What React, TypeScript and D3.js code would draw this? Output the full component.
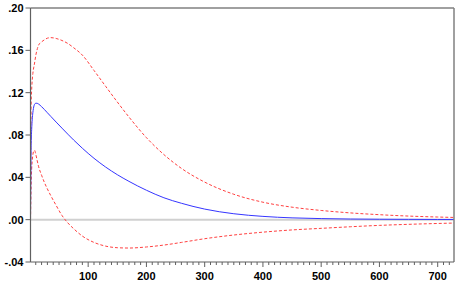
import React from "react";
import * as d3 from "d3";

const periods = [1,2,3,4,5,6,8,10,12,15,20,25,30,36,45,55,65,75,90,110,130,150,170,200,230,260,300,350,400,450,500,550,600,650,700,728];
const response = [0,0.068,0.085,0.095,0.101,0.105,0.109,0.110,0.110,0.1092,0.1068,0.1040,0.1010,0.0975,0.0922,0.0865,0.0808,0.0753,0.0675,0.0580,0.0497,0.0425,0.0362,0.0278,0.0207,0.0155,0.0100,0.0056,0.0031,0.0017,0.0010,0.0006,0.0004,0.0003,0.0002,0.0002];
const upperBand = [0,0.105,0.123,0.132,0.138,0.142,0.148,0.155,0.160,0.165,0.168,0.170,0.1715,0.172,0.1712,0.1693,0.1665,0.1625,0.1555,0.1410,0.1260,0.1112,0.0970,0.0775,0.0615,0.0485,0.0355,0.0240,0.0165,0.0118,0.0087,0.0064,0.0047,0.0034,0.0025,0.0021];
const lowerBand = [0,0.032,0.048,0.056,0.061,0.064,0.0655,0.062,0.057,0.050,0.042,0.035,0.029,0.0225,0.0135,0.004,-0.003,-0.0085,-0.0155,-0.0215,-0.025,-0.0265,-0.0268,-0.0258,-0.024,-0.0215,-0.018,-0.0145,-0.0118,-0.0097,-0.0082,-0.0067,-0.0054,-0.0044,-0.0036,-0.0032];
const yTicks = [-0.04, 0, 0.04, 0.08, 0.12, 0.16, 0.2];
const yTickLabels = ["-.04", ".00", ".04", ".08", ".12", ".16", ".20"];
const xMajorTicks = [100, 200, 300, 400, 500, 600, 700];
const xMinorTicks = d3.range(10, 728, 10);

export default function App() {
  const W = 458, H = 286;
  const left = 30.5, right = 454, top = 8, bottom = 262;
  const x = d3.scaleLinear().domain([1, 728]).range([left, right]);
  const y = d3.scaleLinear().domain([-0.04, 0.2]).range([bottom, top]);
  const line = (vals: number[]) =>
    d3.line<number>().x((_, i) => x(periods[i])).y((v) => y(v)).curve(d3.curveMonotoneX)(vals) || "";
  const font = "'Liberation Sans', Arial, sans-serif";
  return (
    <svg width={W} height={H} style={{ position: "absolute", left: 0, top: 0, background: "#fff" }}>
      <rect x={0} y={0} width={W} height={H} fill="#fff" />
      <line x1={left} x2={right} y1={y(0)} y2={y(0)} stroke="#d0d0d0" strokeWidth={2} />
      <path d={line(upperBand)} fill="none" stroke="#ff4040" strokeWidth={1} strokeDasharray="3,2" />
      <path d={line(lowerBand)} fill="none" stroke="#ff4040" strokeWidth={1} strokeDasharray="3,2" />
      <path d={line(response)} fill="none" stroke="#3535ff" strokeWidth={1} />
      <line x1={left} x2={right} y1={top} y2={top} stroke="#808080" strokeWidth={1.5} />
      <line x1={right} x2={right} y1={top} y2={bottom} stroke="#808080" strokeWidth={1.5} />
      <line x1={left} x2={left} y1={top} y2={bottom} stroke="#606060" strokeWidth={1.2} />
      <line x1={left} x2={right} y1={bottom} y2={bottom} stroke="#606060" strokeWidth={1.2} />
      {yTicks.map((t, i) => (
        <g key={i}>
          <line x1={left - 5} x2={left} y1={y(t)} y2={y(t)} stroke="#606060" strokeWidth={1} />
          <text x={left - 7} y={y(t) + 4} textAnchor="end" fontFamily={font} fontSize={11} fontWeight="bold" fill="#000">
            {yTickLabels[i]}
          </text>
        </g>
      ))}
      {xMinorTicks.map((t) => (
        <line key={t} x1={x(t)} x2={x(t)} y1={bottom} y2={bottom + (t % 100 === 0 ? 5 : 3)} stroke="#606060" strokeWidth={1} />
      ))}
      {xMajorTicks.map((t) => (
        <text key={t} x={x(t)} y={bottom + 17.5} textAnchor="middle" fontFamily={font} fontSize={11} fontWeight="bold" fill="#000">
          {t}
        </text>
      ))}
    </svg>
  );
}
